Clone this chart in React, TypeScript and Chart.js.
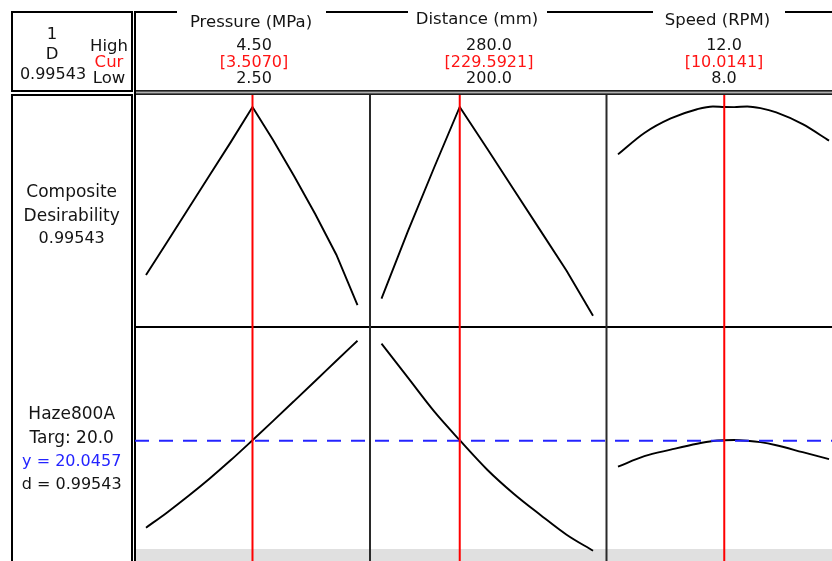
import React, { useEffect, useRef } from 'react';
import { Chart, registerables } from 'chart.js';

Chart.register(...registerables);

// ---------------- data ----------------
const factorNames = ['Pressure (MPa)', 'Distance (mm)', 'Speed (RPM)'];
const highLabels = ['4.50', '280.0', '12.0'];
const lowLabels = ['2.50', '200.0', '8.0'];
const curLabels = ['[3.5070]', '[229.5921]', '[10.0141]'];
const currentSettings = [3.507, 229.5921, 10.0141];

const pressure = [2.5, 2.7, 2.9, 3.1, 3.3, 3.507, 3.7, 3.9, 4.1, 4.3, 4.5];
const pressureDesirability = [0.21, 0.365, 0.52, 0.675, 0.83, 0.99543, 0.842, 0.673, 0.495, 0.305, 0.07];
const pressureHaze = [11.3, 12.83, 14.47, 16.2, 18.04, 20.05, 21.96, 23.96, 25.97, 27.99, 30.0];

const distance = [200, 210, 220, 229.5921, 240, 250, 260, 270, 280];
const distanceDesirability = [0.1, 0.415, 0.715, 0.99543, 0.8, 0.61, 0.42, 0.23, 0.02];
const distanceHaze = [29.7, 26.3, 22.9, 20.05, 17.1, 14.7, 12.6, 10.6, 9.0];

const speed = [8.0, 8.5, 9.0, 9.5, 9.8, 10.0141, 10.2, 10.45, 10.7, 11.0, 11.5, 12.0];
const speedDesirability = [0.774, 0.874, 0.942, 0.985, 0.998, 0.99543, 0.995, 0.998, 0.99, 0.97, 0.915, 0.838];
const speedHaze = [17.4, 18.45, 19.1, 19.7, 19.97, 20.0457, 20.07, 20.0, 19.86, 19.55, 18.85, 18.15];

const hazeTarget = 20.0;
const headerLeft = ['1', 'D', '0.99543'];
const headerRows = ['High', 'Cur', 'Low'];
const compositeLabel = ['Composite', 'Desirability', '0.99543'];
const responseLabel = ['Haze800A', 'Targ: 20.0', 'y = 20.0457', 'd = 0.99543'];

// axis ranges (value space)
const pressureRange = [2.3818, 4.6182];
const distanceRange = [195.65, 285.1];
const speedRange = [7.782, 12.265];
const desirabilityRange = [-0.0327, 1.0561];
const hazeRange = [8.07, 31.37];

// ---------------- layout constants ----------------
const CW = 860;
const CH = 600;
const FAMILY = '"DejaVu Sans"';
const TEXT = '#141414';
const RED = '#ff1414';
const BLUE = '#2424ff';

const toPts = (xs: number[], ys: number[]) => xs.map((x, i) => ({ x, y: ys[i] }));

const curve = (xs: number[], ys: number[], xAxisID: string, yAxisID: string, smooth: boolean) => ({
  data: toPts(xs, ys),
  xAxisID,
  yAxisID,
  borderColor: '#000',
  borderWidth: 1.9,
  pointRadius: 0,
  fill: false,
  tension: 0,
  cubicInterpolationMode: smooth ? 'monotone' : 'default',
});

const hidden = (axis: string, position: string, stack: string, weight: number, range: number[]) => ({
  type: 'linear',
  axis,
  position,
  stack,
  stackWeight: 1,
  weight,
  min: range[0],
  max: range[1],
  display: false,
  grid: { display: false },
});

const framePlugin = {
  id: 'minitabFrame',
  beforeDatasetsDraw(chart: any) {
    const ctx = chart.ctx;
    ctx.save();
    ctx.fillStyle = '#e0e0e0';
    ctx.fillRect(136, 549, CW, 80);
    ctx.restore();
  },
  afterDatasetsDraw(chart: any) {
    const { ctx, scales, chartArea } = chart;
    const line = (x1: number, y1: number, x2: number, y2: number) => {
      ctx.beginPath();
      ctx.moveTo(x1, y1);
      ctx.lineTo(x2, y2);
      ctx.stroke();
    };
    ctx.save();
    // frames
    ctx.strokeStyle = '#000';
    ctx.lineWidth = 2;
    ctx.strokeRect(12, 12, 120, 79);
    ctx.beginPath();
    ctx.moveTo(12, CH + 10);
    ctx.lineTo(12, 95);
    ctx.lineTo(132, 95);
    ctx.lineTo(132, CH + 10);
    ctx.stroke();
    line(135, 11, 135, CH + 10);
    [[134, 177], [326, 408], [547, 653], [785, CW + 10]].forEach(([a, b]) => line(a, 12, b, 12));
    // double line under header
    ctx.fillStyle = '#b0b0b0';
    ctx.fillRect(136, 90, CW, 5);
    ctx.fillStyle = '#1e1e1e';
    ctx.fillRect(136, 90, CW, 1.6);
    ctx.fillRect(136, 93.4, CW, 1.6);
    // row separator
    line(136, scales.yH.top, CW + 10, scales.yH.top);
    // panel separators
    ctx.strokeStyle = '#2a2a2a';
    [scales.xD.left, scales.xS.left].forEach((x: number) => line(x, 95, x, CH + 10));

    // target line
    const yT = scales.yH.getPixelForValue(hazeTarget);
    ctx.strokeStyle = BLUE;
    ctx.lineWidth = 2;
    ctx.setLineDash([14, 10]);
    line(135, yT, CW + 10, yT);
    ctx.setLineDash([]);

    // current settings
    ctx.strokeStyle = '#ff0000';
    ctx.lineWidth = 2;
    ['xP', 'xD', 'xS'].forEach((id, i) => {
      const x = scales[id].getPixelForValue(currentSettings[i]);
      line(x, chartArea.top + 1, x, CH + 10);
    });

    // texts
    ctx.textAlign = 'center';
    ctx.textBaseline = 'alphabetic';
    const txt = (s: string, x: number, y: number, size: number, c = TEXT) => {
      ctx.font = `${size}px ${FAMILY}`;
      ctx.fillStyle = c;
      ctx.fillText(s, x, y);
    };
    txt(headerLeft[0], 52, 38.5, 16.5);
    txt(headerLeft[1], 52, 58.5, 16.5);
    txt(headerLeft[2], 53, 78.5, 16);
    txt(headerRows[0], 109, 50.5, 16.5);
    txt(headerRows[1], 109, 66.5, 16.5, RED);
    txt(headerRows[2], 109, 83, 16.5);

    const titleX = [251, 477, 717.5];
    const titleY = [26.5, 24.3, 25];
    const valX = [254, 489, 724];
    factorNames.forEach((n, i) => {
      txt(n, titleX[i], titleY[i], 16.5);
      txt(highLabels[i], valX[i], 50.3, 16);
      txt(curLabels[i], valX[i], 66.6, 16, RED);
      txt(lowLabels[i], valX[i], 83.2, 16);
    });

    txt(compositeLabel[0], 71.7, 197.3, 17);
    txt(compositeLabel[1], 71.7, 220.7, 17);
    txt(compositeLabel[2], 71.7, 243.3, 16);

    txt(responseLabel[0], 71.7, 419.3, 17);
    txt(responseLabel[1], 71.7, 442.7, 17);
    txt(responseLabel[2], 71.7, 466, 16, BLUE);
    txt(responseLabel[3], 71.7, 489.3, 16);
    ctx.restore();
  },
};

export default function App() {
  const ref = useRef<HTMLCanvasElement>(null);
  useEffect(() => {
    if (!ref.current) return;
    const chart = new Chart(ref.current, {
      type: 'line',
      data: {
        datasets: [
          curve(pressure, pressureDesirability, 'xP', 'yD', false),
          curve(distance, distanceDesirability, 'xD', 'yD', false),
          curve(speed, speedDesirability, 'xS', 'yD', true),
          curve(pressure, pressureHaze, 'xP', 'yH', true),
          curve(distance, distanceHaze, 'xD', 'yH', true),
          curve(speed, speedHaze, 'xS', 'yH', true),
        ] as any,
      },
      options: {
        animation: false,
        responsive: false,
        maintainAspectRatio: false,
        events: [],
        layout: { padding: { left: 133.5, top: 94, right: CW - 843, bottom: CH - 560 } },
        plugins: { legend: { display: false }, tooltip: { enabled: false }, title: { display: false } },
        scales: {
          xP: hidden('x', 'bottom', 'cols', 0, pressureRange),
          xD: hidden('x', 'bottom', 'cols', 1, distanceRange),
          xS: hidden('x', 'bottom', 'cols', 2, speedRange),
          yD: hidden('y', 'right', 'rows', 0, desirabilityRange),
          yH: hidden('y', 'right', 'rows', 1, hazeRange),
        } as any,
      },
      plugins: [framePlugin],
    });
    return () => chart.destroy();
  }, []);
  return (
    <div
      style={{
        position: 'fixed',
        left: 0,
        top: 0,
        width: 832,
        height: 561,
        overflow: 'hidden',
        background: '#fff',
      }}
    >
      <canvas ref={ref} width={CW} height={CH} style={{ display: 'block', width: CW, height: CH }} />
    </div>
  );
}
